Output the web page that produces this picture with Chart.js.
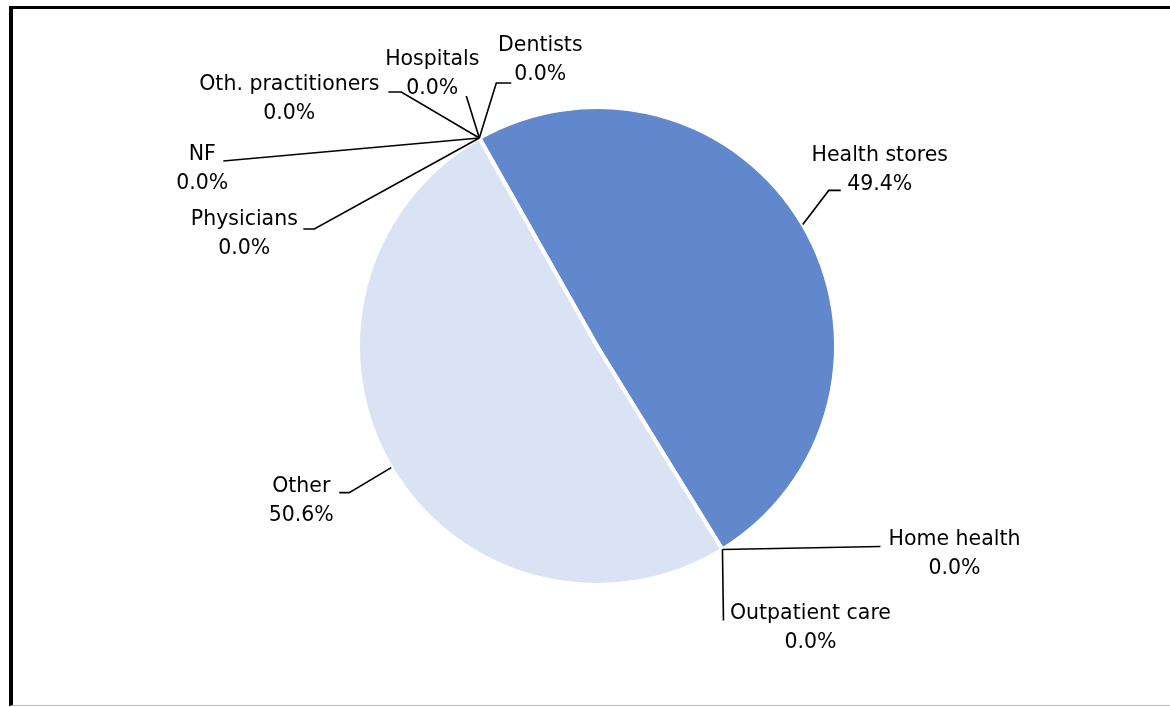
<!DOCTYPE html>
<html>
<head>
<meta charset="utf-8">
<script src="https://cdn.jsdelivr.net/npm/chart.js@4.4.0/dist/chart.umd.min.js"></script>
<style>
  html, body { margin: 0; padding: 0; background: #fff; }
  #wrap { position: relative; width: 1170px; height: 707px; overflow: hidden; background: #fff; }
  #frame { position: absolute; left: 9px; top: 6px; width: 1200px; height: 696px;
           border-top: 3px solid #000; border-left: 4px solid #000; border-bottom: 1px solid #bdbdbd; }
  #c { position: absolute; left: 0; top: 0; }
</style>
</head>
<body>
<div id="wrap">
  <div id="frame"></div>
  <canvas id="c" width="1170" height="707"></canvas>
</div>
<script>
// ---- data ----
const categories = ["Health stores", "Home health", "Outpatient care", "Other",
                    "Physicians", "NF", "Oth. practitioners", "Hospitals", "Dentists"];
const shares = [49.4, 0, 0, 50.6, 0, 0, 0, 0, 0];
const sliceColors = ["#6187cc", "#6187cc", "#6187cc", "#dae3f3",
                     "#dae3f3", "#dae3f3", "#dae3f3", "#dae3f3", "#dae3f3"];

// ---- label layout (offsets relative to the slice's edge anchor) ----
const labelLayout = {
  "Health stores":      { text: [77, -69],  path: [[26, -34], [38, -34]] },
  "Home health":        { text: [232, -10], path: [[158, -3]] },
  "Outpatient care":    { text: [88, 64],   path: [[1, 71]] },
  "Other":              { text: [-90, 19],  path: [[-42, 25], [-52, 25]] },
  "Physicians":         { text: [-235, 82], path: [[-165, 91], [-176, 91]] },
  "NF":                 { text: [-277, 17], path: [[-256, 23]] },
  "Oth. practitioners": { text: [-190, -53], path: [[-78, -46], [-91, -46]] },
  "Hospitals":          { text: [-47, -78], path: [[-13, -42]] },
  "Dentists":           { text: [61, -92],  path: [[17, -55], [32, -55]] }
};

const labelPlugin = {
  id: 'pieLabels',
  afterDatasetsDraw(chart) {
    const ctx = chart.ctx;
    const meta = chart.getDatasetMeta(0);
    const data = chart.data.datasets[0].data;
    const total = data.reduce((a, b) => a + b, 0);
    ctx.save();
    ctx.font = '20.5px "DejaVu Sans", Verdana, sans-serif';
    ctx.fillStyle = '#000';
    ctx.strokeStyle = '#000';
    ctx.lineWidth = 1.6;
    ctx.textAlign = 'center';
    ctx.textBaseline = 'middle';
    meta.data.forEach((arc, i) => {
      const p = arc.getProps(['x', 'y', 'startAngle', 'endAngle', 'outerRadius'], true);
      const mid = (p.startAngle + p.endAngle) / 2;
      const ax = p.x + Math.cos(mid) * p.outerRadius;
      const ay = p.y + Math.sin(mid) * p.outerRadius;
      const name = chart.data.labels[i];
      const lay = labelLayout[name];
      if (!lay) return;
      ctx.beginPath();
      ctx.moveTo(ax, ay);
      lay.path.forEach(pt => ctx.lineTo(ax + pt[0], ay + pt[1]));
      ctx.stroke();
      const pct = (data[i] / total * 100).toFixed(1) + '%';
      const tx = ax + lay.text[0], ty = ay + lay.text[1];
      ctx.fillText(name, tx, ty);
      ctx.fillText(pct, tx, ty + 29);
    });
    ctx.restore();
  }
};

new Chart(document.getElementById('c'), {
  type: 'pie',
  data: {
    labels: categories,
    datasets: [{
      data: shares,
      backgroundColor: sliceColors,
      borderColor: '#ffffff',
      borderWidth: 4
    }]
  },
  options: {
    responsive: false,
    animation: false,
    rotation: -29.5,
    layout: { padding: { left: 297, right: 273, top: 105, bottom: 120 } },
    plugins: { legend: { display: false }, tooltip: { enabled: false } }
  },
  plugins: [labelPlugin]
});
</script>
</body>
</html>
